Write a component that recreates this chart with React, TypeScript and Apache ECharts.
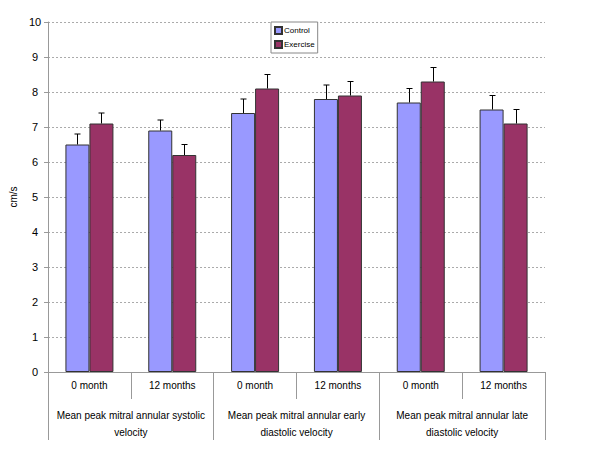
import React, { useEffect, useRef } from "react";
import * as echarts from "echarts";

const subCategories = ["0 month", "12 months", "0 month", "12 months", "0 month", "12 months"];
const groupCategories = [
  "Mean peak mitral annular systolic\nvelocity",
  "Mean peak mitral annular early\ndiastolic velocity",
  "Mean peak mitral annular late\ndiastolic velocity",
];
const controlValues = [6.5, 6.9, 7.4, 7.8, 7.7, 7.5];
const controlErrTop = [6.8, 7.2, 7.8, 8.2, 8.1, 7.9];
const exerciseValues = [7.1, 6.2, 8.1, 7.9, 8.3, 7.1];
const exerciseErrTop = [7.4, 6.5, 8.5, 8.3, 8.7, 7.5];
const yTicks = { min: 0, max: 10, interval: 1 };

const FONT = "Liberation Sans, Arial, sans-serif";
const BAR_W = 24;

function errSeries(name: string, vals: number[], tops: number[], dir: number) {
  return {
    type: "custom",
    name: name + "-err",
    xAxisIndex: 0,
    yAxisIndex: 0,
    silent: true,
    z: 5,
    data: vals.map((v, i) => [i, v, tops[i]]),
    renderItem: (params: any, api: any) => {
      const i = api.value(0);
      const b = api.coord([i, api.value(1)]);
      const t = api.coord([i, api.value(2)]);
      const x = Math.round(b[0] + dir * (BAR_W / 2)) + 0.5;
      const style = { stroke: "#000", lineWidth: 1 };
      return {
        type: "group",
        children: [
          { type: "line", shape: { x1: x, y1: b[1], x2: x, y2: t[1] }, style },
          { type: "line", shape: { x1: x - 3, y1: t[1], x2: x + 3, y2: t[1] }, style },
        ],
      };
    },
  };
}

export default function App() {
  const ref = useRef<HTMLDivElement>(null);
  useEffect(() => {
    if (!ref.current) return;
    const chart = echarts.init(ref.current, undefined, { renderer: "svg" });
    chart.setOption({
      animation: false,
      textStyle: { fontFamily: FONT },
      grid: { left: 45, right: 55, top: 22, bottom: 78 },
      legend: {
        data: ["Control", "Exercise"],
        orient: "vertical",
        left: 271,
        top: 22,
        icon: "rect",
        itemWidth: 7,
        itemHeight: 7,
        itemGap: 5,
        padding: [4, 3, 4, 3],
        backgroundColor: "#fff",
        borderColor: "#888",
        borderWidth: 1,
        textStyle: { fontSize: 8, color: "#000", fontFamily: FONT, padding: [0, 0, 0, -3] },
      },
      xAxis: [
        {
          type: "category",
          data: subCategories,
          position: "bottom",
          axisLine: { show: true, lineStyle: { color: "#999" } },
          axisTick: { show: true, alignWithLabel: false, interval: 0, length: 27, lineStyle: { color: "#999" } },
          axisLabel: { interval: 0, fontSize: 10, color: "#000", margin: 8, fontFamily: FONT },
        },
        {
          type: "category",
          data: groupCategories,
          position: "bottom",
          axisLine: { show: false },
          axisTick: { show: true, alignWithLabel: false, interval: 0, length: 68, lineStyle: { color: "#999" } },
          axisLabel: { interval: 0, fontSize: 10, color: "#000", margin: 35, lineHeight: 17, fontFamily: FONT },
        },
      ],
      yAxis: {
        type: "value",
        min: yTicks.min,
        max: yTicks.max,
        interval: yTicks.interval,
        name: "cm/s",
        nameLocation: "middle",
        nameGap: 25,
        nameTextStyle: { fontSize: 10, color: "#000", fontFamily: FONT },
        axisLine: { show: true, lineStyle: { color: "#999" } },
        axisTick: { show: true, length: 4, lineStyle: { color: "#999" } },
        axisLabel: { fontSize: 11, color: "#000", margin: 13, align: "center", fontFamily: FONT },
        splitLine: { lineStyle: { color: "#aaa", type: [2, 2] } },
      },
      series: [
        {
          type: "bar",
          name: "Control",
          data: controlValues,
          barWidth: BAR_W,
          barGap: "0%",
          itemStyle: { color: "#9999FF", borderColor: "#333", borderWidth: 1 },
        },
        {
          type: "bar",
          name: "Exercise",
          data: exerciseValues,
          barWidth: BAR_W,
          barGap: "0%",
          itemStyle: { color: "#993366", borderColor: "#333", borderWidth: 1 },
        },
        errSeries("Control", controlValues, controlErrTop, -1),
        errSeries("Exercise", exerciseValues, exerciseErrTop, 1),
      ],
    });
    return () => chart.dispose();
  }, []);
  return <div ref={ref} style={{ width: 600, height: 450, margin: -8 }} />;
}
